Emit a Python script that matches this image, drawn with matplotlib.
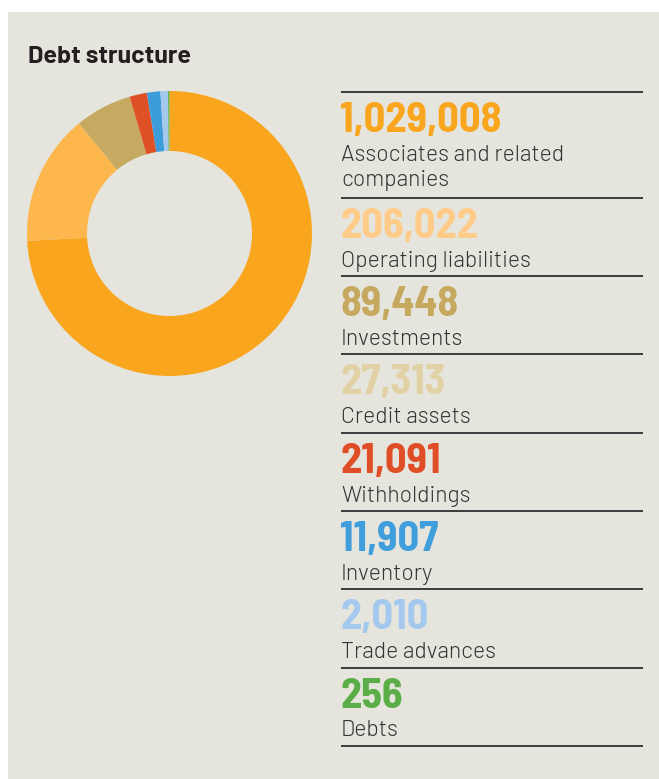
import matplotlib
matplotlib.use('Agg')
import matplotlib.pyplot as plt
from matplotlib.patches import Rectangle

# data
values = [1029008, 206022, 89448, 27313, 21091, 11907, 2010, 256]
numbers = ['1,029,008', '206,022', '89,448', '27,313', '21,091', '11,907', '2,010', '256']
labels = ['Associates and related\ncompanies', 'Operating liabilities', 'Investments',
          'Credit assets', 'Withholdings', 'Inventory', 'Trade advances', 'Debts']
text_colors = ['#F9A61E', '#FFCB88', '#C6A95F', '#E3D1A6', '#E04E27', '#3F9EDB', '#A5C9EE', '#5BAE47']
# the donut in the original skips the beige colour, so slices after "Investments" shift by one
slice_colors = ['#F9A61E', '#FDB74C', '#C6AA62', '#E05027', '#3D9DDB', '#A5C9EC', '#5DAE44', '#5DAE44']

W, H = 659, 779
bg = '#E5E5DD'

fig = plt.figure(figsize=(W / 100, H / 100), dpi=100)
fig.patch.set_facecolor('white')

# pixel-coordinate axes for panel, title, list
ax0 = fig.add_axes([0, 0, 1, 1])
ax0.set_xlim(0, W)
ax0.set_ylim(H, 0)
ax0.axis('off')
ax0.add_patch(Rectangle((8, 12), W - 8, H - 12, facecolor=bg, edgecolor='none'))

ax0.text(28, 63, 'Debt structure', fontsize=18, fontweight='bold',
         family='Barlow', color='#231F20', va='baseline')

# list on the right
rules = [91.7]
for lab in labels:
    step = 106 if '\n' in lab else 78.3
    rules.append(rules[-1] + step)

for y in rules:
    ax0.plot([341, 643], [y, y], color='#2E2E2E', lw=1.3, solid_capstyle='butt')

for i, (num, lab) in enumerate(zip(numbers, labels)):
    top = rules[i]
    ax0.text(340, top + 40, num, fontsize=30.5, fontweight='bold',
             family='Barlow Semi Condensed', color=text_colors[i], va='baseline')
    for k, line in enumerate(lab.split('\n')):
        ax0.text(341, top + 69 + 25.5 * k, line, fontsize=16.5, fontweight=300, family='Barlow',
                 color='#333333', va='baseline')

# donut
cx, cy, r = 169.5, 233.5, 142.5
ax = fig.add_axes([(cx - r) / W, (H - cy - r) / H, 2 * r / W, 2 * r / H])
ax.pie(values, colors=slice_colors, startangle=90, counterclock=False, radius=1,
       wedgeprops=dict(width=60 / r, linewidth=0))
ax.set_xlim(-1, 1)
ax.set_ylim(-1, 1)
ax.set_aspect('equal')
ax.axis('off')

fig.savefig('out.png', dpi=100, facecolor='white')
